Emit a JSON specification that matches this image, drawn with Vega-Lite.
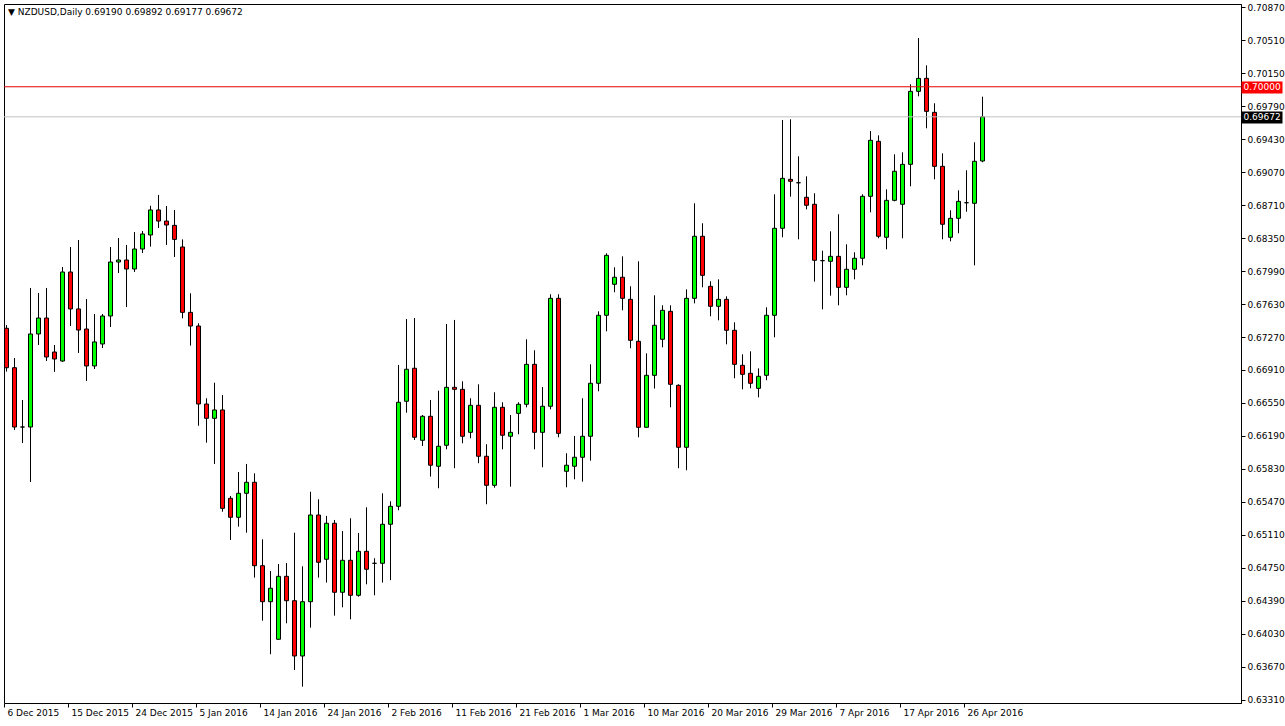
{
  "$schema": "https://vega.github.io/schema/vega-lite/v6.json",
  "width": 1237,
  "height": 699,
  "autosize": {"type": "none"},
  "padding": {"left": 4, "top": 4, "right": 44, "bottom": 23},
  "background": "#ffffff",
  "config": {
    "view": {"stroke": "#000000", "strokeWidth": 1},
    "font": "DejaVu Sans",
    "axis": {"labelFont": "DejaVu Sans", "labelFontSize": 9, "labelColor": "#000000", "tickColor": "#000000", "domainColor": "#000000", "grid": false, "title": null, "labelOverlap": false},
    "axisY": {"labelOverlap": false},
    "axisRight": {"labelOverlap": false}
  },
  "title": {
    "text": "▼ NZDUSD,Daily  0.69190 0.69892 0.69177 0.69672",
    "anchor": "start",
    "frame": "group",
    "orient": "top",
    "offset": 0,
    "baseline": "top",
    "dy": 14,
    "dx": 4,
    "fontSize": 9,
    "fontWeight": "normal",
    "font": "DejaVu Sans",
    "color": "#000000"
  },
  "datasets": {
    "candles": [
      {"date": "6 Dec 2015", "open": 0.67365, "high": 0.67401, "low": 0.66892, "close": 0.66935},
      {"date": "7 Dec 2015", "open": 0.66935, "high": 0.67041, "low": 0.66256, "close": 0.66288},
      {"date": "8 Dec 2015", "open": 0.66288, "high": 0.66583, "low": 0.66114, "close": 0.66288},
      {"date": "9 Dec 2015", "open": 0.66288, "high": 0.67805, "low": 0.65688, "close": 0.67303},
      {"date": "10 Dec 2015", "open": 0.67303, "high": 0.67750, "low": 0.67183, "close": 0.67477},
      {"date": "11 Dec 2015", "open": 0.67477, "high": 0.67805, "low": 0.67008, "close": 0.67052},
      {"date": "13 Dec 2015", "open": 0.67106, "high": 0.67183, "low": 0.66890, "close": 0.67030},
      {"date": "14 Dec 2015", "open": 0.67008, "high": 0.68034, "low": 0.66997, "close": 0.67979},
      {"date": "15 Dec 2015", "open": 0.67979, "high": 0.68252, "low": 0.67390, "close": 0.67576},
      {"date": "16 Dec 2015", "open": 0.67576, "high": 0.68328, "low": 0.67096, "close": 0.67346},
      {"date": "17 Dec 2015", "open": 0.67357, "high": 0.67685, "low": 0.66790, "close": 0.66954},
      {"date": "18 Dec 2015", "open": 0.66954, "high": 0.67521, "low": 0.66921, "close": 0.67216},
      {"date": "20 Dec 2015", "open": 0.67194, "high": 0.67521, "low": 0.67150, "close": 0.67499},
      {"date": "21 Dec 2015", "open": 0.67499, "high": 0.68252, "low": 0.67379, "close": 0.68088},
      {"date": "22 Dec 2015", "open": 0.68088, "high": 0.68350, "low": 0.67968, "close": 0.68110},
      {"date": "23 Dec 2015", "open": 0.68110, "high": 0.68274, "low": 0.67597, "close": 0.68012},
      {"date": "24 Dec 2015", "open": 0.68012, "high": 0.68415, "low": 0.67979, "close": 0.68230},
      {"date": "27 Dec 2015", "open": 0.68230, "high": 0.68426, "low": 0.68186, "close": 0.68394},
      {"date": "28 Dec 2015", "open": 0.68383, "high": 0.68702, "low": 0.68256, "close": 0.68656},
      {"date": "29 Dec 2015", "open": 0.68656, "high": 0.68820, "low": 0.68459, "close": 0.68535},
      {"date": "30 Dec 2015", "open": 0.68535, "high": 0.68699, "low": 0.68274, "close": 0.68492},
      {"date": "31 Dec 2015", "open": 0.68488, "high": 0.68656, "low": 0.68143, "close": 0.68335},
      {"date": "3 Jan 2016", "open": 0.68252, "high": 0.68335, "low": 0.67474, "close": 0.67539},
      {"date": "4 Jan 2016", "open": 0.67539, "high": 0.67747, "low": 0.67176, "close": 0.67390},
      {"date": "5 Jan 2016", "open": 0.67390, "high": 0.67419, "low": 0.66302, "close": 0.66539},
      {"date": "6 Jan 2016", "open": 0.66539, "high": 0.66601, "low": 0.66117, "close": 0.66383},
      {"date": "7 Jan 2016", "open": 0.66383, "high": 0.66771, "low": 0.65885, "close": 0.66474},
      {"date": "8 Jan 2016", "open": 0.66474, "high": 0.66637, "low": 0.65364, "close": 0.65401},
      {"date": "10 Jan 2016", "open": 0.65510, "high": 0.65536, "low": 0.65056, "close": 0.65303},
      {"date": "11 Jan 2016", "open": 0.65303, "high": 0.65797, "low": 0.65201, "close": 0.65565},
      {"date": "12 Jan 2016", "open": 0.65565, "high": 0.65885, "low": 0.65135, "close": 0.65685},
      {"date": "13 Jan 2016", "open": 0.65685, "high": 0.65783, "low": 0.64645, "close": 0.64775},
      {"date": "14 Jan 2016", "open": 0.64775, "high": 0.65063, "low": 0.64175, "close": 0.64382},
      {"date": "15 Jan 2016", "open": 0.64382, "high": 0.64717, "low": 0.63809, "close": 0.64529},
      {"date": "17 Jan 2016", "open": 0.63972, "high": 0.64793, "low": 0.63972, "close": 0.64659},
      {"date": "18 Jan 2016", "open": 0.64659, "high": 0.64804, "low": 0.64147, "close": 0.64393},
      {"date": "19 Jan 2016", "open": 0.64393, "high": 0.65135, "low": 0.63637, "close": 0.63790},
      {"date": "20 Jan 2016", "open": 0.63790, "high": 0.64768, "low": 0.63455, "close": 0.64382},
      {"date": "21 Jan 2016", "open": 0.64382, "high": 0.65582, "low": 0.64099, "close": 0.65328},
      {"date": "22 Jan 2016", "open": 0.65328, "high": 0.65500, "low": 0.64645, "close": 0.64812},
      {"date": "24 Jan 2016", "open": 0.64845, "high": 0.65318, "low": 0.64591, "close": 0.65238},
      {"date": "25 Jan 2016", "open": 0.65238, "high": 0.65274, "low": 0.64230, "close": 0.64485},
      {"date": "26 Jan 2016", "open": 0.64485, "high": 0.65154, "low": 0.64321, "close": 0.64834},
      {"date": "27 Jan 2016", "open": 0.64834, "high": 0.65292, "low": 0.64190, "close": 0.64452},
      {"date": "28 Jan 2016", "open": 0.64452, "high": 0.65132, "low": 0.64437, "close": 0.64932},
      {"date": "29 Jan 2016", "open": 0.64932, "high": 0.65412, "low": 0.64572, "close": 0.64736},
      {"date": "31 Jan 2016", "open": 0.64801, "high": 0.64856, "low": 0.64452, "close": 0.64801},
      {"date": "1 Feb 2016", "open": 0.64801, "high": 0.65565, "low": 0.64591, "close": 0.65227},
      {"date": "2 Feb 2016", "open": 0.65227, "high": 0.65478, "low": 0.64617, "close": 0.65423},
      {"date": "3 Feb 2016", "open": 0.65423, "high": 0.66965, "low": 0.65380, "close": 0.66558},
      {"date": "4 Feb 2016", "open": 0.66569, "high": 0.67466, "low": 0.66444, "close": 0.66918},
      {"date": "5 Feb 2016", "open": 0.66929, "high": 0.67477, "low": 0.66146, "close": 0.66176},
      {"date": "7 Feb 2016", "open": 0.66143, "high": 0.66419, "low": 0.66081, "close": 0.66405},
      {"date": "8 Feb 2016", "open": 0.66405, "high": 0.66583, "low": 0.65747, "close": 0.65871},
      {"date": "9 Feb 2016", "open": 0.65860, "high": 0.66684, "low": 0.65620, "close": 0.66078},
      {"date": "10 Feb 2016", "open": 0.66089, "high": 0.67412, "low": 0.66045, "close": 0.66721},
      {"date": "11 Feb 2016", "open": 0.66721, "high": 0.67456, "low": 0.65838, "close": 0.66699},
      {"date": "12 Feb 2016", "open": 0.66699, "high": 0.66787, "low": 0.66111, "close": 0.66187},
      {"date": "14 Feb 2016", "open": 0.66230, "high": 0.66601, "low": 0.66165, "close": 0.66525},
      {"date": "15 Feb 2016", "open": 0.66525, "high": 0.66754, "low": 0.65893, "close": 0.65969},
      {"date": "16 Feb 2016", "open": 0.65969, "high": 0.66100, "low": 0.65445, "close": 0.65652},
      {"date": "17 Feb 2016", "open": 0.65652, "high": 0.66667, "low": 0.65626, "close": 0.66503},
      {"date": "18 Feb 2016", "open": 0.66503, "high": 0.66558, "low": 0.66045, "close": 0.66198},
      {"date": "19 Feb 2016", "open": 0.66187, "high": 0.66419, "low": 0.65637, "close": 0.66230},
      {"date": "21 Feb 2016", "open": 0.66437, "high": 0.66558, "low": 0.66209, "close": 0.66536},
      {"date": "22 Feb 2016", "open": 0.66536, "high": 0.67245, "low": 0.66503, "close": 0.66972},
      {"date": "23 Feb 2016", "open": 0.66972, "high": 0.67125, "low": 0.66045, "close": 0.66230},
      {"date": "24 Feb 2016", "open": 0.66230, "high": 0.66725, "low": 0.65849, "close": 0.66514},
      {"date": "25 Feb 2016", "open": 0.66514, "high": 0.67736, "low": 0.66481, "close": 0.67692},
      {"date": "26 Feb 2016", "open": 0.67692, "high": 0.67736, "low": 0.66176, "close": 0.66219},
      {"date": "28 Feb 2016", "open": 0.65805, "high": 0.66002, "low": 0.65631, "close": 0.65871},
      {"date": "29 Feb 2016", "open": 0.65860, "high": 0.66191, "low": 0.65718, "close": 0.65958},
      {"date": "1 Mar 2016", "open": 0.65958, "high": 0.66601, "low": 0.65692, "close": 0.66187},
      {"date": "2 Mar 2016", "open": 0.66187, "high": 0.66972, "low": 0.65921, "close": 0.66765},
      {"date": "3 Mar 2016", "open": 0.66765, "high": 0.67550, "low": 0.66678, "close": 0.67507},
      {"date": "4 Mar 2016", "open": 0.67507, "high": 0.68183, "low": 0.67332, "close": 0.68161},
      {"date": "6 Mar 2016", "open": 0.67845, "high": 0.68031, "low": 0.67758, "close": 0.67922},
      {"date": "7 Mar 2016", "open": 0.67922, "high": 0.68150, "low": 0.67561, "close": 0.67692},
      {"date": "8 Mar 2016", "open": 0.67681, "high": 0.67823, "low": 0.67147, "close": 0.67234},
      {"date": "9 Mar 2016", "open": 0.67223, "high": 0.68096, "low": 0.66176, "close": 0.66285},
      {"date": "10 Mar 2016", "open": 0.66285, "high": 0.67092, "low": 0.66285, "close": 0.66852},
      {"date": "11 Mar 2016", "open": 0.66852, "high": 0.67725, "low": 0.66708, "close": 0.67398},
      {"date": "13 Mar 2016", "open": 0.67245, "high": 0.67616, "low": 0.67157, "close": 0.67561},
      {"date": "14 Mar 2016", "open": 0.67550, "high": 0.67616, "low": 0.66503, "close": 0.66754},
      {"date": "15 Mar 2016", "open": 0.66743, "high": 0.66754, "low": 0.65838, "close": 0.66067},
      {"date": "16 Mar 2016", "open": 0.66067, "high": 0.67790, "low": 0.65816, "close": 0.67692},
      {"date": "17 Mar 2016", "open": 0.67692, "high": 0.68729, "low": 0.67637, "close": 0.68369},
      {"date": "18 Mar 2016", "open": 0.68369, "high": 0.68511, "low": 0.67812, "close": 0.67943},
      {"date": "20 Mar 2016", "open": 0.67823, "high": 0.67878, "low": 0.67496, "close": 0.67605},
      {"date": "21 Mar 2016", "open": 0.67605, "high": 0.67899, "low": 0.67452, "close": 0.67681},
      {"date": "22 Mar 2016", "open": 0.67681, "high": 0.67714, "low": 0.67190, "close": 0.67343},
      {"date": "23 Mar 2016", "open": 0.67343, "high": 0.67430, "low": 0.66819, "close": 0.66972},
      {"date": "24 Mar 2016", "open": 0.66961, "high": 0.67081, "low": 0.66699, "close": 0.66863},
      {"date": "25 Mar 2016", "open": 0.66874, "high": 0.67114, "low": 0.66710, "close": 0.66765},
      {"date": "27 Mar 2016", "open": 0.66710, "high": 0.66928, "low": 0.66612, "close": 0.66841},
      {"date": "28 Mar 2016", "open": 0.66852, "high": 0.67594, "low": 0.66798, "close": 0.67507},
      {"date": "29 Mar 2016", "open": 0.67507, "high": 0.68827, "low": 0.67267, "close": 0.68456},
      {"date": "30 Mar 2016", "open": 0.68456, "high": 0.69637, "low": 0.68358, "close": 0.69001},
      {"date": "31 Mar 2016", "open": 0.68990, "high": 0.69645, "low": 0.68801, "close": 0.68969},
      {"date": "1 Apr 2016", "open": 0.68953, "high": 0.69241, "low": 0.68336, "close": 0.68953},
      {"date": "3 Apr 2016", "open": 0.68794, "high": 0.69023, "low": 0.68663, "close": 0.68707},
      {"date": "4 Apr 2016", "open": 0.68718, "high": 0.68838, "low": 0.67874, "close": 0.68107},
      {"date": "5 Apr 2016", "open": 0.68103, "high": 0.68212, "low": 0.67572, "close": 0.68103},
      {"date": "6 Apr 2016", "open": 0.68096, "high": 0.68423, "low": 0.67721, "close": 0.68150},
      {"date": "7 Apr 2016", "open": 0.68150, "high": 0.68609, "low": 0.67616, "close": 0.67812},
      {"date": "8 Apr 2016", "open": 0.67812, "high": 0.68281, "low": 0.67725, "close": 0.68009},
      {"date": "10 Apr 2016", "open": 0.68009, "high": 0.68194, "low": 0.67899, "close": 0.68129},
      {"date": "11 Apr 2016", "open": 0.68129, "high": 0.68827, "low": 0.68052, "close": 0.68805},
      {"date": "12 Apr 2016", "open": 0.68805, "high": 0.69517, "low": 0.68630, "close": 0.69416},
      {"date": "13 Apr 2016", "open": 0.69405, "high": 0.69470, "low": 0.68347, "close": 0.68369},
      {"date": "14 Apr 2016", "open": 0.68358, "high": 0.68881, "low": 0.68227, "close": 0.68761},
      {"date": "15 Apr 2016", "open": 0.68761, "high": 0.69263, "low": 0.68750, "close": 0.69078},
      {"date": "17 Apr 2016", "open": 0.68718, "high": 0.69285, "low": 0.68347, "close": 0.69154},
      {"date": "18 Apr 2016", "open": 0.69154, "high": 0.70027, "low": 0.68914, "close": 0.69950},
      {"date": "19 Apr 2016", "open": 0.69950, "high": 0.70532, "low": 0.69896, "close": 0.70092},
      {"date": "20 Apr 2016", "open": 0.70092, "high": 0.70234, "low": 0.69547, "close": 0.69732},
      {"date": "21 Apr 2016", "open": 0.69721, "high": 0.69820, "low": 0.68990, "close": 0.69132},
      {"date": "22 Apr 2016", "open": 0.69132, "high": 0.69274, "low": 0.68336, "close": 0.68500},
      {"date": "24 Apr 2016", "open": 0.68358, "high": 0.68652, "low": 0.68314, "close": 0.68565},
      {"date": "25 Apr 2016", "open": 0.68565, "high": 0.68870, "low": 0.68402, "close": 0.68750},
      {"date": "26 Apr 2016", "open": 0.68735, "high": 0.69089, "low": 0.68637, "close": 0.68735},
      {"date": "27 Apr 2016", "open": 0.68729, "high": 0.69394, "low": 0.68052, "close": 0.69187},
      {"date": "28 Apr 2016", "open": 0.69190, "high": 0.69892, "low": 0.69177, "close": 0.69672}
    ],
    "levels": [
      {"price": 0.70000, "kind": "level"},
      {"price": 0.69672, "kind": "bid"}
    ]
  },
  "layer": [
    {
      "data": {"name": "candles"},
      "encoding": {
        "x": {
          "field": "date",
          "type": "ordinal",
          "sort": null,
          "scale": {"type": "band", "range": [-1.5, 982.5], "paddingInner": 0, "paddingOuter": 0},
          "axis": {
            "orient": "bottom",
            "values": ["6 Dec 2015", "15 Dec 2015", "24 Dec 2015", "5 Jan 2016", "14 Jan 2016", "24 Jan 2016", "2 Feb 2016", "11 Feb 2016", "21 Feb 2016", "1 Mar 2016", "10 Mar 2016", "20 Mar 2016", "29 Mar 2016", "7 Apr 2016", "17 Apr 2016", "26 Apr 2016"],
            "bandPosition": 0.25,
            "domain": false,
            "ticks": true,
            "tickSize": 4,
            "labelAlign": "left",
            "labelAngle": 0,
            "labelPadding": 1,
            "labelOffset": 1,
            "labelOverlap": false,
            "labelBound": false,
            "labelFlush": false
          }
        },
        "y": {
          "field": "low",
          "type": "quantitative",
          "scale": {"domain": [0.63277, 0.70903], "nice": false, "zero": false},
          "axis": {
            "orient": "right",
            "values": [0.70870, 0.70510, 0.70150, 0.69790, 0.69430, 0.69070, 0.68710, 0.68350, 0.67990, 0.67630, 0.67270, 0.66910, 0.66550, 0.66190, 0.65830, 0.65470, 0.65110, 0.64750, 0.64390, 0.64030, 0.63670, 0.63310],
            "format": ".5f",
            "domain": true,
            "tickSize": 4,
            "labelPadding": 2,
            "labelAlign": "left",
            "labelOverlap": false,
            "labelSeparation": 0,
            "labelBound": false,
            "labelFlush": false
          }
        }
      },
      "layer": [
        {
          "mark": {"type": "rule", "color": "#000000", "strokeWidth": 1},
          "encoding": {
            "y2": {"field": "high"}
          }
        },
        {
          "mark": {"type": "bar", "size": 4, "stroke": "#000000", "strokeWidth": 1},
          "encoding": {
            "y": {
              "field": "open",
              "type": "quantitative",
              "scale": {"domain": [0.63277, 0.70903], "nice": false, "zero": false},
              "axis": {
                "orient": "right",
                "values": [0.70870, 0.70510, 0.70150, 0.69790, 0.69430, 0.69070, 0.68710, 0.68350, 0.67990, 0.67630, 0.67270, 0.66910, 0.66550, 0.66190, 0.65830, 0.65470, 0.65110, 0.64750, 0.64390, 0.64030, 0.63670, 0.63310],
                "format": ".5f",
                "domain": true,
                "tickSize": 4,
                "labelPadding": 2,
                "labelAlign": "left",
                "labelOverlap": false,
                "labelSeparation": 0,
                "labelBound": false,
                "labelFlush": false
              }
            },
            "y2": {"field": "close"},
            "fill": {
              "condition": [
                {"test": "datum.close > datum.open", "value": "#00ff00"},
                {"test": "datum.close < datum.open", "value": "#ff0000"}
              ],
              "value": "#000000"
            }
          }
        }
      ]
    },
    {
      "data": {"name": "levels"},
      "mark": {"type": "rule", "strokeWidth": 1},
      "encoding": {
        "y": {
          "field": "price",
          "type": "quantitative",
          "scale": {"domain": [0.63277, 0.70903], "nice": false, "zero": false},
          "axis": {
            "orient": "right",
            "values": [0.70000, 0.69672],
            "format": ".5f",
            "domain": false,
            "tickSize": 41,
            "tickWidth": 12,
            "tickColor": {"condition": {"test": "datum.value > 0.699", "value": "#ff0000"}, "value": "#000000"},
            "labelColor": "#ffffff",
            "labelPadding": -39,
            "labelAlign": "left",
            "labelOverlap": false,
            "labelBound": false,
            "labelFlush": false
          }
        },
        "color": {
          "field": "kind",
          "type": "nominal",
          "scale": {"domain": ["level", "bid"], "range": ["#e00000", "#c0c0c0"]},
          "legend": null
        }
      }
    }
  ],
  "resolve": {"scale": {"y": "independent"}, "axis": {"y": "independent"}}
}
